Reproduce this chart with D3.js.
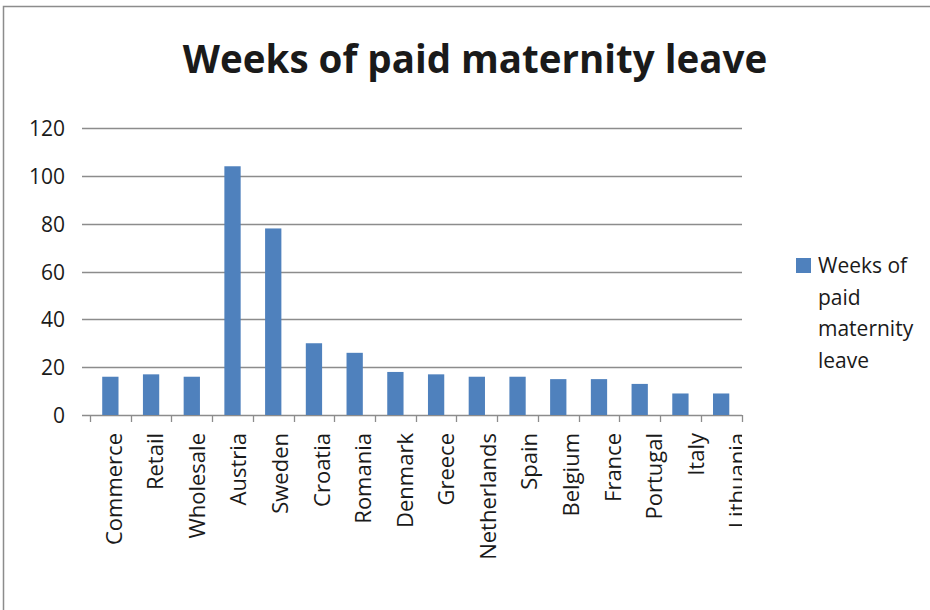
<!DOCTYPE html>
<html>
<head>
<meta charset="utf-8">
<script src="https://cdn.jsdelivr.net/npm/d3@7"></script>
<style>
  body { margin: 0; background: #fff; }
  svg { display: block; }
</style>
</head>
<body>
<script>
// chart data
var categories = ["Commerce", "Retail", "Wholesale", "Austria", "Sweden", "Croatia", "Romania",
                  "Denmark", "Greece", "Netherlands", "Spain", "Belgium", "France", "Portugal",
                  "Italy", "Lithuania"];
var weeks = [16, 17, 16, 104, 78, 30, 26, 18, 17, 16, 16, 15, 15, 13, 9, 9];
var yTicks = [0, 20, 40, 60, 80, 100, 120];
var seriesName = "Weeks of paid maternity leave";
var legendLines = ["Weeks of", "paid", "maternity", "leave"];

var font = "'Open Sans', 'Noto Sans', sans-serif";

var svg = d3.select("body").append("svg")
    .attr("width", 930)
    .attr("height", 610);

// outer chart border (runs off the right and bottom)
svg.append("rect")
    .attr("x", 3.5).attr("y", 6.5)
    .attr("width", 940).attr("height", 620)
    .attr("fill", "none")
    .attr("stroke", "#8c8c8c")
    .attr("stroke-width", 1.5);

svg.append("text")
    .attr("x", 475).attr("y", 73)
    .attr("text-anchor", "middle")
    .attr("font-family", font)
    .attr("font-weight", "bold")
    .attr("font-size", 38.5)
    .attr("fill", "#1a1a1a")
    .text(seriesName);

var x = d3.scaleBand()
    .domain(categories)
    .range([90, 741.5])
    .paddingInner(0.6)
    .paddingOuter(0.3);

// labels in the original sit on a slightly wider pitch than the bars
var xLabel = d3.scaleBand()
    .domain(categories)
    .range([90, 755]);

var y = d3.scaleLinear()
    .domain([0, 120])
    .range([415, 128]);

// gridlines
svg.append("g").selectAll("line")
    .data(yTicks)
    .enter().append("line")
    .attr("x1", 82).attr("x2", 742)
    .attr("y1", function (d) { return Math.round(y(d)) + 0.5; })
    .attr("y2", function (d) { return Math.round(y(d)) + 0.5; })
    .attr("stroke", "#8c8c8c")
    .attr("stroke-width", 1.3);

// y tick labels
svg.append("g").selectAll("text")
    .data(yTicks)
    .enter().append("text")
    .attr("x", 65)
    .attr("y", function (d) { return y(d) + 8; })
    .attr("text-anchor", "end")
    .attr("font-family", font)
    .attr("font-size", 21)
    .attr("fill", "#1a1a1a")
    .text(function (d) { return d; });

// bars
svg.append("g").selectAll("rect")
    .data(weeks)
    .enter().append("rect")
    .attr("x", function (d, i) { return x(categories[i]); })
    .attr("y", function (d) { return y(d); })
    .attr("width", x.bandwidth())
    .attr("height", function (d) { return y(0) - y(d); })
    .attr("fill", "#4f81bd");

// category ticks
var tickPos = d3.range(categories.length + 1).map(function (i) { return 90 + i * (651.5 / categories.length); });
svg.append("g").selectAll("line")
    .data(tickPos)
    .enter().append("line")
    .attr("x1", function (d) { return Math.round(d) + 0.5; })
    .attr("x2", function (d) { return Math.round(d) + 0.5; })
    .attr("y1", 415).attr("y2", 422)
    .attr("stroke", "#8c8c8c")
    .attr("stroke-width", 1.3);

// category labels, clipped at the plot's right edge
svg.append("clipPath").attr("id", "clip")
    .append("rect").attr("x", 0).attr("y", 0).attr("width", 742).attr("height", 610);

svg.append("g").attr("clip-path", "url(#clip)")
    .selectAll("text")
    .data(categories)
    .enter().append("text")
    .attr("transform", function (d) {
        return "translate(" + (xLabel(d) + xLabel.bandwidth() / 2 + 11) + ",433) rotate(-90)";
    })
    .attr("text-anchor", "end")
    .attr("font-family", font)
    .attr("font-size", 22)
    .attr("fill", "#1a1a1a")
    .text(function (d) { return d; });

// legend
svg.append("rect")
    .attr("x", 796).attr("y", 258)
    .attr("width", 15).attr("height", 15)
    .attr("fill", "#4f81bd");

svg.append("g").selectAll("text")
    .data(legendLines)
    .enter().append("text")
    .attr("x", 818)
    .attr("y", function (d, i) { return 273 + i * 31.5; })
    .attr("font-family", font)
    .attr("font-size", 21)
    .attr("fill", "#1a1a1a")
    .text(function (d) { return d; });
</script>
</body>
</html>
